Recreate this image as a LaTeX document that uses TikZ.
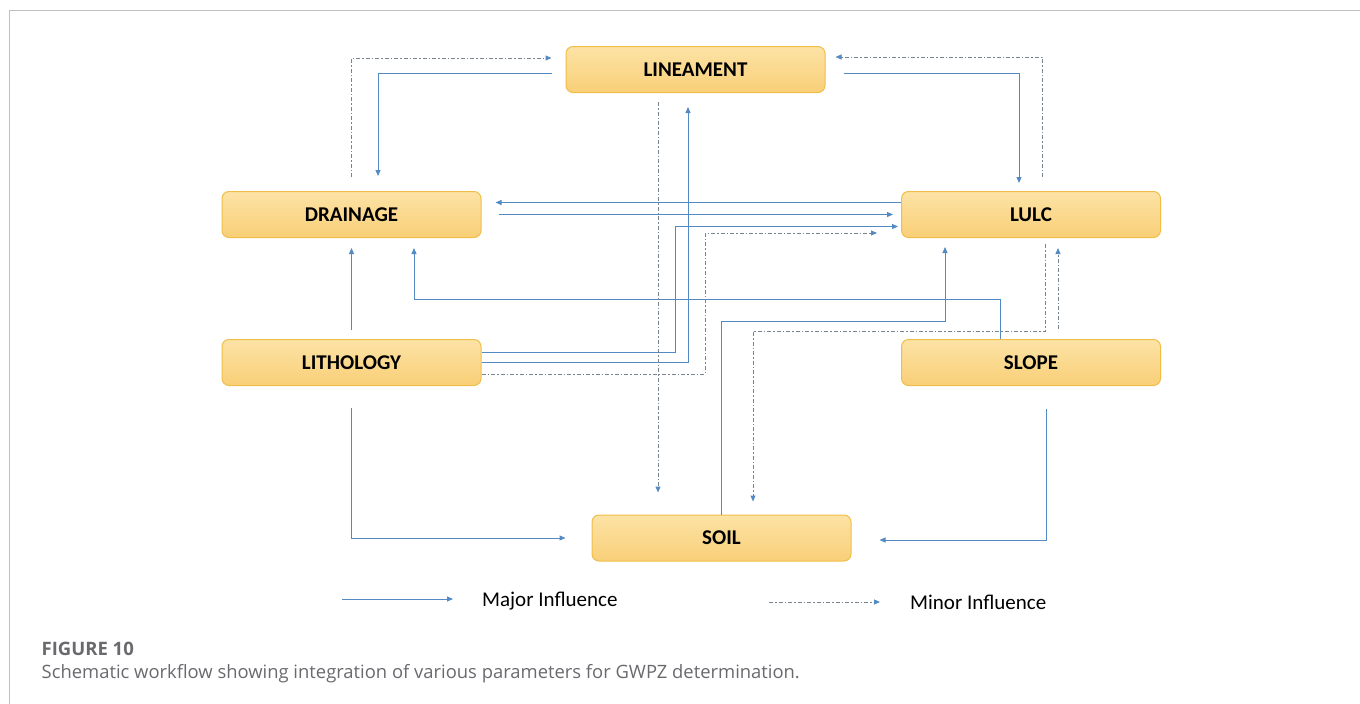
\documentclass[tikz,border=0pt]{standalone}
\usepackage{fontspec}
\setmainfont{Carlito}
\newfontfamily\captionfont{Open Sans}
\usepackage{xcolor}
\usepackage{tikz}
\usetikzlibrary{arrows.meta, positioning, calc}

\definecolor{majorblue}{RGB}{84,138,196}
\definecolor{minorgray}{RGB}{120,130,145}
\definecolor{boxtop}{RGB}{252,227,165}
\definecolor{boxbottom}{RGB}{249,207,120}
\definecolor{boxline}{RGB}{240,190,72}
\definecolor{framegray}{RGB}{190,190,190}
\definecolor{captiongray}{RGB}{105,105,110}

\begin{document}
\begin{tikzpicture}[x=1pt, y=-1pt,
	param/.style={draw=boxline, line width=1pt, rounded corners=7pt, top color=boxtop, bottom color=boxbottom, minimum width=259pt, minimum height=46pt, font=\fontsize{21}{24}\selectfont\bfseries},
	major/.style={draw=majorblue, line width=1pt, -{Triangle[length=6pt,width=5pt]}},
	minor/.style={draw=minorgray, line width=1pt, dash pattern=on 4pt off 2pt on 1.5pt off 2pt, -{Triangle[length=6pt,width=5pt,color=majorblue]}},
	legend/.style={font=\fontsize{21}{24}\selectfont, anchor=base west, inner sep=0pt}]
		\useasboundingbox (0,0) rectangle (1360,704);
		
		% Frame
		\draw[framegray, line width=1pt] (9.5,704) -- (9.5,10.5) -- (1360,10.5);
		
		% Parameters
		\node[param] (lineament) at (695.5,69.5) {LINEAMENT};
		\node[param] (drainage) at (351.5,214.5) {DRAINAGE};
		\node[param] (lulc) at (1031,214.5) {LULC};
		\node[param] (lithology) at (351.5,362.5) {LITHOLOGY};
		\node[param] (slope) at (1031,362.5) {SLOPE};
		\node[param] (soil) at (721.5,538) {SOIL};
		
		% Major influence
		\draw[major] ([xshift=-14pt,yshift=-3.5pt]lineament.west) -| ([xshift=26.5pt,yshift=15pt]drainage.north);
		\draw[major] ([xshift=18pt,yshift=-3.5pt]lineament.east) -| ([xshift=-12pt,yshift=8pt]lulc.north);
		\draw[major] ([yshift=12pt]lulc.west) -- ([xshift=14pt,yshift=12pt]drainage.east);
		\draw[major] ([xshift=17pt]drainage.east) -- ([xshift=-8pt]lulc.west);
		\draw[major] (lithology.east) -| ([xshift=-7.5pt,yshift=-14pt]lineament.south);
		\draw[major] ([yshift=10.5pt]lithology.east) -| ([xshift=-226pt,yshift=-12pt]lulc.west) -- ([xshift=-3pt,yshift=-12pt]lulc.west);
		\draw[major] ([yshift=9pt]lithology.north) -- ([yshift=-10pt]drainage.south);
		\draw[major] ([xshift=-31pt]slope.north) -- ++(0pt,40pt) -| ([xshift=62.5pt,yshift=-10pt]drainage.south);
		\draw[major] ([yshift=-22pt]lithology.south) |- ([xshift=-26pt]soil.west);
		\draw[major] (soil.north) |- ([xshift=-86pt,yshift=-83.5pt]lulc.south) -- ([xshift=-86pt,yshift=-9pt]lulc.south);
		\draw[major] ([xshift=15pt,yshift=-23pt]slope.south) |- ([xshift=28pt,yshift=-2pt]soil.east);
		
		% Minor influence
		\draw[minor] ([yshift=14pt]drainage.north) |- ([xshift=-14pt,yshift=11.5pt]lineament.west);
		\draw[minor] ([xshift=11pt,yshift=14pt]lulc.north) |- ([xshift=10pt,yshift=12.5pt]lineament.east);
		\draw[minor] ([yshift=-11.5pt]lithology.east) -| ([xshift=-196pt,yshift=-18.5pt]lulc.west) -- ([xshift=-24pt,yshift=-18.5pt]lulc.west);
		\draw[minor] ([xshift=-37.5pt,yshift=-9pt]lineament.south) -- ([xshift=-63.5pt,yshift=22pt]soil.north);
		\draw[minor] ([xshift=14pt,yshift=-6pt]lulc.south) -- ++(0pt,-87pt) -| ([xshift=31.5pt,yshift=13pt]soil.north);
		\draw[minor] ([xshift=27pt,yshift=10pt]slope.north) -- ([xshift=27pt,yshift=-10pt]lulc.south);
		
		% Legend
		\node[legend] (majortxt) at (482,606.5) {Major Influence};
		\node[legend] (minortxt) at (910,609) {Minor Influence};
		\coordinate (majorstart) at (342,599);
		\coordinate (majorend) at (453,599);
		\coordinate (minorstart) at (769,602);
		\coordinate (minorend) at (880,602);
		\draw[major] (majorstart) -- (majorend);
		\draw[minor] (minorstart) -- (minorend);
		
		% Caption
		\node[anchor=base west, inner sep=0pt, text=captiongray, font=\captionfont\fontsize{18.5}{22}\selectfont\bfseries] (figlabel) at (41.5,655) {FIGURE 10};
		\node[anchor=base west, inner sep=0pt, text=captiongray, font=\captionfont\fontsize{18.4}{22}\selectfont] (figcaption) at (41.5,678) {Schematic workflow showing integration of various parameters for GWPZ determination.};
	\end{tikzpicture}
\end{document}
